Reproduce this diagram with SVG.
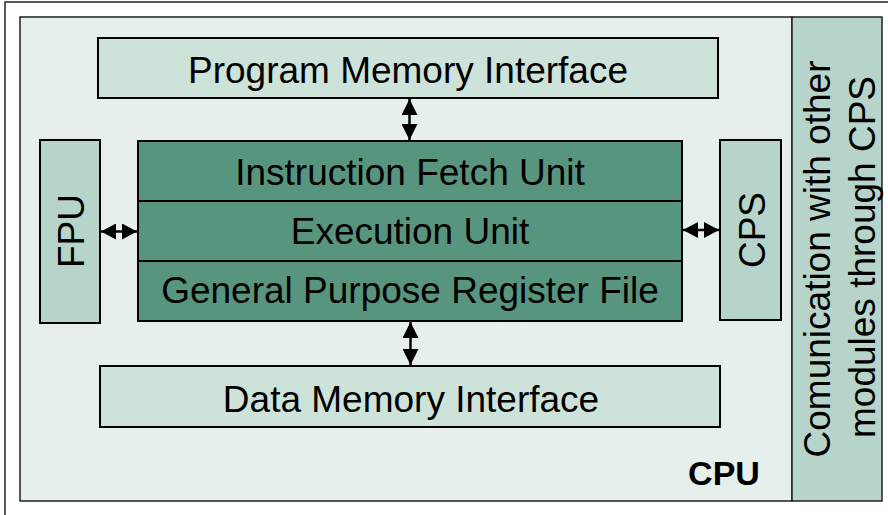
<svg xmlns="http://www.w3.org/2000/svg" width="888" height="515" viewBox="0 0 888 515">
<defs>
<style>
.box{stroke:#000;stroke-width:2}
.light{fill:#cde3da}
.mid{fill:#b6d4ca}
.dark{fill:#58957f}
.t{font-family:"Liberation Sans",Arial,sans-serif;font-size:37px;fill:#000;text-anchor:middle}
.b{font-weight:bold;font-size:34px}
.c{stroke:#000;stroke-width:2.5;fill:none}
</style>
<marker id="ah" markerUnits="userSpaceOnUse" markerWidth="16" markerHeight="16" viewBox="0 0 16 16" refX="16" refY="8" orient="auto-start-reverse">
<path d="M0,0 L16,8 L0,16 z" fill="#000"/>
</marker>
<marker id="ahs" markerUnits="userSpaceOnUse" markerWidth="15" markerHeight="16" viewBox="0 0 15 16" refX="15" refY="8" orient="auto-start-reverse">
<path d="M0,0 L15,8 L0,16 z" fill="#000"/>
</marker>
</defs>
<rect x="0" y="0" width="888" height="515" fill="#fff"/>
<rect x="5" y="2" width="900" height="530" fill="#fff" stroke="#222" stroke-width="1.5"/>
<g id="cpu">
<rect x="20" y="17" width="772" height="484" fill="#e6efeb" stroke="#222" stroke-width="1.5"/>
<text class="t b" x="724" y="485">CPU</text>
</g>
<g id="comm">
<rect x="792" y="17" width="90" height="484" class="mid" stroke="#222" stroke-width="1.5"/>
<text class="t" transform="translate(830,259) rotate(-90)">Comunication with other</text>
<text class="t" transform="translate(875,257) rotate(-90)">modules through CPS</text>
</g>
<g id="pmi">
<rect x="98" y="38" width="620" height="60" class="box light"/>
<text class="t" x="408" y="83">Program Memory Interface</text>
</g>
<g id="fpu">
<rect x="40" y="140" width="60" height="183" class="box mid"/>
<text class="t" transform="translate(84,231) rotate(-90)">FPU</text>
</g>
<g id="cps">
<rect x="720" y="140" width="61" height="180" class="box mid"/>
<text class="t" transform="translate(765,230) rotate(-90)">CPS</text>
</g>
<g id="ifu">
<rect x="138" y="141" width="544" height="60" class="box dark"/>
<text class="t" x="410" y="185">Instruction Fetch Unit</text>
</g>
<g id="eu">
<rect x="138" y="201" width="544" height="60" class="box dark"/>
<text class="t" x="410" y="244">Execution Unit</text>
</g>
<g id="gprf">
<rect x="138" y="261" width="544" height="60" class="box dark"/>
<text class="t" x="410" y="303">General Purpose Register File</text>
</g>
<g id="dmi">
<rect x="100" y="366" width="620" height="61" class="box light"/>
<text class="t" x="411" y="412">Data Memory Interface</text>
</g>
<g id="connectors">
<line class="c" x1="409.5" y1="99" x2="409.5" y2="140" marker-start="url(#ah)" marker-end="url(#ah)"/>
<line class="c" x1="410.5" y1="322" x2="410.5" y2="365" marker-start="url(#ah)" marker-end="url(#ah)"/>
<line class="c" x1="101" y1="231.5" x2="137" y2="231.5" marker-start="url(#ahs)" marker-end="url(#ahs)"/>
<line class="c" x1="683" y1="230" x2="719" y2="230" marker-start="url(#ahs)" marker-end="url(#ahs)"/>
</g>
</svg>
